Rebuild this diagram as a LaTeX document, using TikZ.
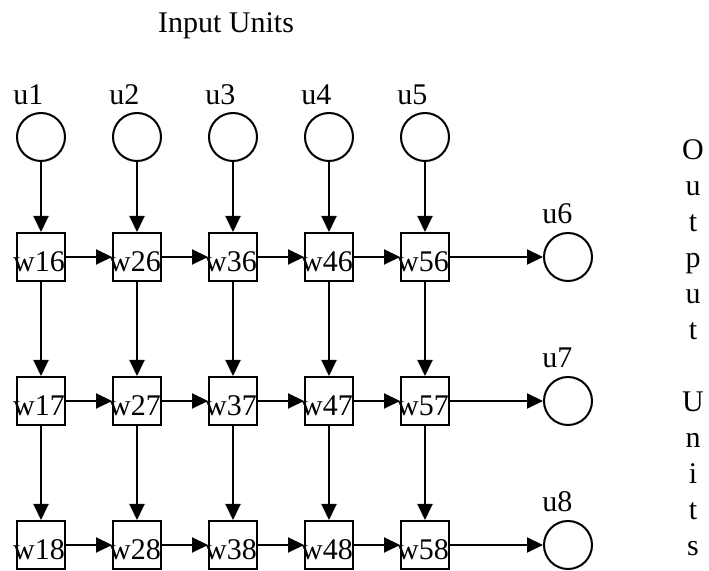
\documentclass[tikz,border=0pt]{standalone}
\usepackage{fontspec}
\setmainfont{Liberation Serif}
\usepackage{tikz}
\usetikzlibrary{arrows.meta,positioning,calc}
\tikzset{
  nn unit/.style={
    circle,
    draw,
    line width=1pt,
    minimum size=24pt,
    inner sep=0pt,
  },
  nn weight/.style={
    rectangle,
    draw,
    line width=1pt,
    minimum size=24pt,
    inner sep=0pt,
  },
  nn text/.style={inner sep=0pt, font=\fontsize{15}{18}\selectfont},
  nn wlabel/.style={label={[nn text, xshift=-1pt, yshift=-2.5pt]center:#1}},
  nn arrow/.style={-{Triangle[length=8pt,width=7.5pt]}, line width=1pt},
}

\begin{document}
\begin{tikzpicture}[x=0.5pt, y=-0.5pt, node distance=47pt and 23pt]
  \useasboundingbox (0,0) rectangle (709,571);

  \node[nn text, anchor=base] (intitle) at (226,33) {Input Units};

  \node[nn unit] (u1) at (41,137) {};
  \node[nn unit,right=of u1] (u2) {};
  \node[nn unit,right=of u2] (u3) {};
  \node[nn unit,right=of u3] (u4) {};
  \node[nn unit,right=of u4] (u5) {};

  \node[nn weight,nn wlabel=w16,below=35pt of u1] (w16) {};
  \node[nn weight,nn wlabel=w26,right=of w16] (w26) {};
  \node[nn weight,nn wlabel=w36,right=of w26] (w36) {};
  \node[nn weight,nn wlabel=w46,right=of w36] (w46) {};
  \node[nn weight,nn wlabel=w56,right=of w46] (w56) {};

  \node[nn weight,nn wlabel=w17,below=of w16] (w17) {};
  \node[nn weight,nn wlabel=w27,right=of w17] (w27) {};
  \node[nn weight,nn wlabel=w37,right=of w27] (w37) {};
  \node[nn weight,nn wlabel=w47,right=of w37] (w47) {};
  \node[nn weight,nn wlabel=w57,right=of w47] (w57) {};

  \node[nn weight,nn wlabel=w18,below=of w17] (w18) {};
  \node[nn weight,nn wlabel=w28,right=of w18] (w28) {};
  \node[nn weight,nn wlabel=w38,right=of w28] (w38) {};
  \node[nn weight,nn wlabel=w48,right=of w38] (w48) {};
  \node[nn weight,nn wlabel=w58,right=of w48] (w58) {};

  \node[nn unit,right=46.5pt of w56] (u6) {};
  \node[nn unit,right=46.5pt of w57] (u7) {};
  \node[nn unit,right=46.5pt of w58] (u8) {};

  \node[nn text,anchor=base west] (lu1) at ($(u1.west)+(-3,-32)$) {u1};
  \node[nn text,anchor=base west] (lu2) at ($(u2.west)+(-3,-32)$) {u2};
  \node[nn text,anchor=base west] (lu3) at ($(u3.west)+(-3,-32)$) {u3};
  \node[nn text,anchor=base west] (lu4) at ($(u4.west)+(-3,-32)$) {u4};
  \node[nn text,anchor=base west] (lu5) at ($(u5.west)+(-3,-32)$) {u5};
  \node[nn text,anchor=base west] (lu6) at ($(u6.west)+(-1,-33)$) {u6};
  \node[nn text,anchor=base west] (lu7) at ($(u7.west)+(-1,-33)$) {u7};
  \node[nn text,anchor=base west] (lu8) at ($(u8.west)+(-1,-33)$) {u8};

  \node[nn text,align=center] (outtitle) at (693,348)
    {O\\u\\t\\p\\u\\t\\[18pt]U\\n\\i\\t\\s};

  \draw[nn arrow] (u1) -- (w16);
  \draw[nn arrow] (u2) -- (w26);
  \draw[nn arrow] (u3) -- (w36);
  \draw[nn arrow] (u4) -- (w46);
  \draw[nn arrow] (u5) -- (w56);

  \draw[nn arrow] (w16) -- (w26);
  \draw[nn arrow] (w26) -- (w36);
  \draw[nn arrow] (w36) -- (w46);
  \draw[nn arrow] (w46) -- (w56);
  \draw[nn arrow] (w56) -- (u6);

  \draw[nn arrow] (w17) -- (w27);
  \draw[nn arrow] (w27) -- (w37);
  \draw[nn arrow] (w37) -- (w47);
  \draw[nn arrow] (w47) -- (w57);
  \draw[nn arrow] (w57) -- (u7);

  \draw[nn arrow] (w18) -- (w28);
  \draw[nn arrow] (w28) -- (w38);
  \draw[nn arrow] (w38) -- (w48);
  \draw[nn arrow] (w48) -- (w58);
  \draw[nn arrow] (w58) -- (u8);

  \draw[nn arrow] (w16) -- (w17);
  \draw[nn arrow] (w26) -- (w27);
  \draw[nn arrow] (w36) -- (w37);
  \draw[nn arrow] (w46) -- (w47);
  \draw[nn arrow] (w56) -- (w57);

  \draw[nn arrow] (w17) -- (w18);
  \draw[nn arrow] (w27) -- (w28);
  \draw[nn arrow] (w37) -- (w38);
  \draw[nn arrow] (w47) -- (w48);
  \draw[nn arrow] (w57) -- (w58);
\end{tikzpicture}
\end{document}
